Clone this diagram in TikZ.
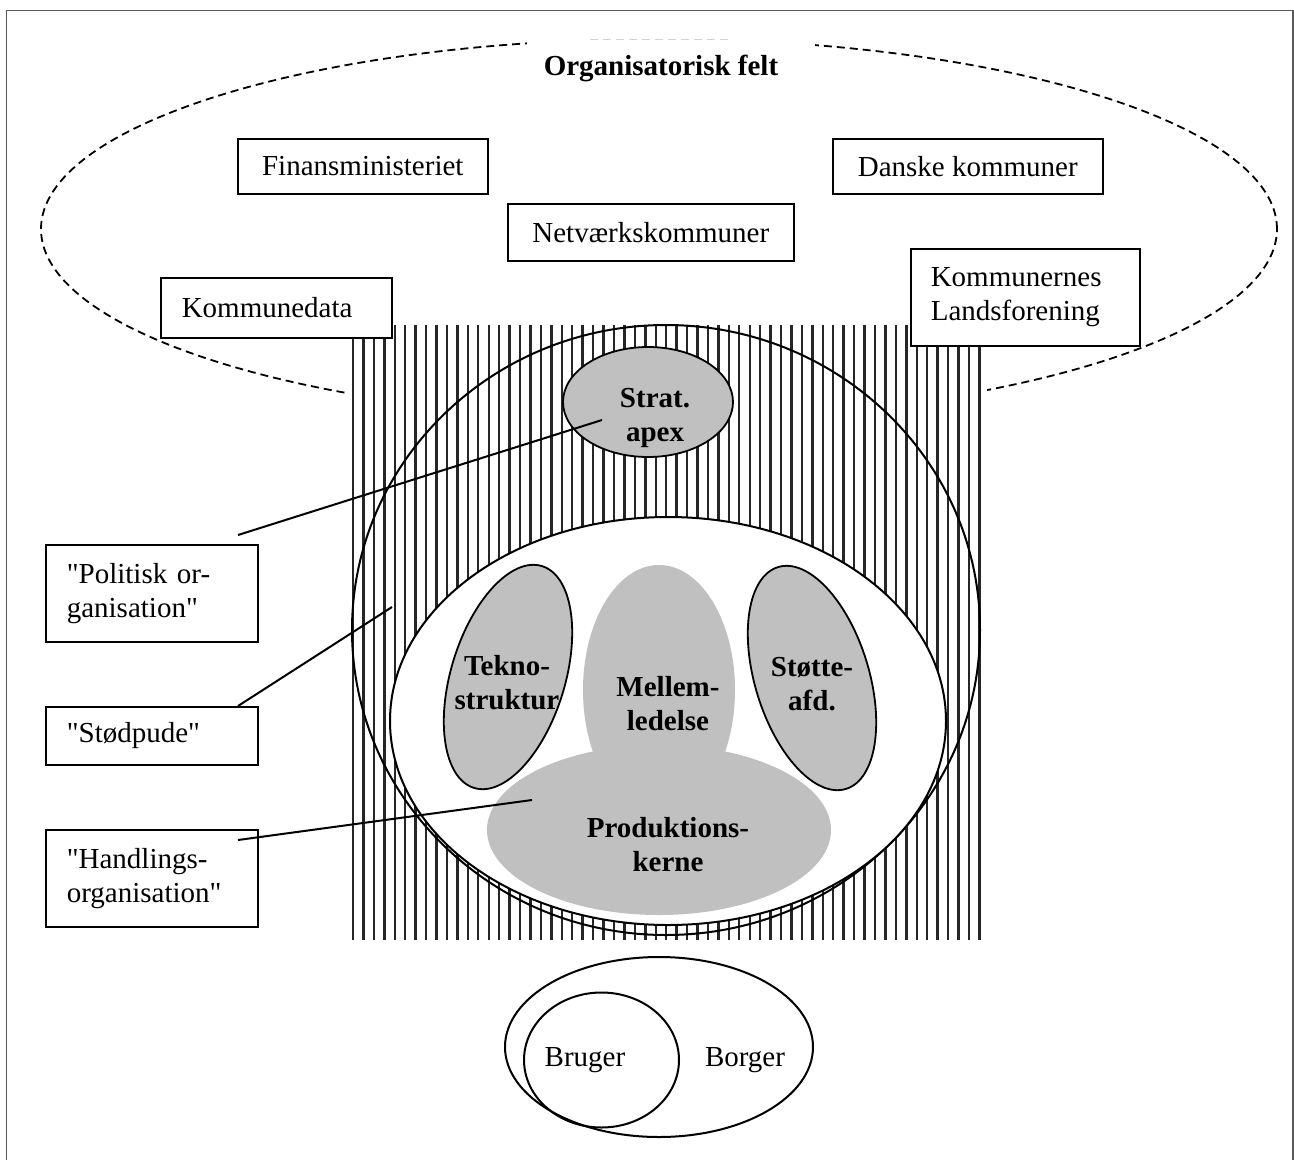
\documentclass[tikz,border=0pt]{standalone}
\usepackage{fontspec}
\setmainfont{Liberation Serif}[Ligatures=TeXOff]
\usetikzlibrary{shapes.geometric}
\definecolor{shade}{HTML}{C0C0C0}
\begin{document}
\begin{tikzpicture}[x=1pt,y=1pt,
  txt/.style={font=\fontsize{29}{34}\selectfont, inner sep=0pt},
  btxt/.style={font=\fontsize{29}{34}\selectfont\bfseries, inner sep=0pt, align=center},
  box/.style={draw=black, line width=1.6pt, fill=white, anchor=north west, inner sep=0pt, font=\fontsize{29}{34}\selectfont},
  cbox/.style={box, align=center},
  lbox/.style={box, align=left},
  conn/.style={line width=2pt},
  feltline/.style={line width=1.8pt, dash pattern=on 8pt off 5pt},
  stripe/.style={line width=2.4pt, black!85},
  ring/.style={line width=2pt},
  blob/.style={ellipse, inner sep=0pt, fill=shade},
  oblob/.style={blob, draw=black, line width=1.8pt}
]
\useasboundingbox (0,0) rectangle (1294,-1160);
% frame
\draw[black!65, line width=1.5pt] (6.5,-10.5) rectangle (1293,-1170);
% organisational field
\draw[feltline] (659,-229) ellipse [x radius=618, y radius=190];
\fill[white] (527,-36) rectangle (815,-100);
\draw[gray!35, line width=1pt, dash pattern=on 8pt off 5pt] (590,-39) -- (730,-39);
\node[btxt] (title) at (661,-68) {Organisatorisk felt};
% striped area
\fill[white] (349,-325) rectangle (987,-940);
\foreach \i in {0,...,60} \draw[stripe] ({353+\i*10.44},-325) -- ++(0,-615);
% organisation
\draw[ring] (666,-630) ellipse [x radius=314, y radius=305];
\draw[ring, fill=white] (668,-721) ellipse [x radius=278, y radius=204];
\node[blob, minimum width=152pt, minimum height=250pt] (mel) at (659,-690) {};
\node[blob, minimum width=344pt, minimum height=170pt] (prod) at (659,-830) {};
\node[oblob, minimum width=114pt, minimum height=232pt, rotate=-17] (tek) at (508,-677) {};
\node[oblob, minimum width=114pt, minimum height=232pt, rotate=17] (sto) at (812,-678) {};
\node[oblob, minimum width=170pt, minimum height=110pt] (apex) at (648,-402) {};
\node[btxt] (apext) at (655,-418) {Strat.\\apex};
\node[btxt] (melt) at (668,-704) {Mellem-\\ledelse};
\node[btxt] (prodt) at (668,-845) {Produktions-\\kerne};
\node[btxt] (tekt) at (507,-683) {Tekno-\\struktur};
\node[btxt] (stot) at (812,-684) {Støtte-\\afd.};
% field boxes
\node[cbox, minimum width=250pt, minimum height=55pt] (fin) at (237,-138) {Finansministeriet};
\node[cbox, minimum width=270pt, minimum height=55pt] (dk) at (832,-138) {Danske kommuner};
\node[cbox, minimum width=286pt, minimum height=57pt] (net) at (507,-203) {Netværkskommuner};
\node[lbox, text width=189pt, inner xsep=21pt, minimum height=60pt] (kd) at (160,-277) {Kommunedata};
\node[lbox, text width=189pt, inner xsep=20pt, minimum height=97pt] (kl) at (910,-248) {Kommunernes\\Landsforening};
% left label boxes
\node[lbox, text width=170pt, inner xsep=21pt, minimum height=97pt] (pol) at (45,-544) {"Politisk or-\\ganisation"};
\node[lbox, text width=170pt, inner xsep=21pt, minimum height=58pt] (stp) at (45,-706) {"Stødpude"};
\node[lbox, text width=170pt, inner xsep=21pt, minimum height=97pt] (han) at (45,-829) {"Handlings-\\organisation"};
% connectors
\coordinate (polA) at (238,-535); \coordinate (polB) at (602,-420);
\coordinate (stpA) at (238,-706); \coordinate (stpB) at (392,-607);
\coordinate (hanA) at (238,-840); \coordinate (hanB) at (532,-800);
\draw[conn] (polA) -- (polB);
\draw[conn] (stpA) -- (stpB);
\draw[conn] (hanA) -- (hanB);
% citizens
\draw[ring] (659,-1047) ellipse [x radius=154, y radius=90];
\draw[ring] (601.5,-1060) ellipse [x radius=77.5, y radius=67.5];
\node[txt] (bru) at (585,-1060) {Bruger};
\node[txt] (bor) at (745,-1060) {Borger};
\end{tikzpicture}
\end{document}
